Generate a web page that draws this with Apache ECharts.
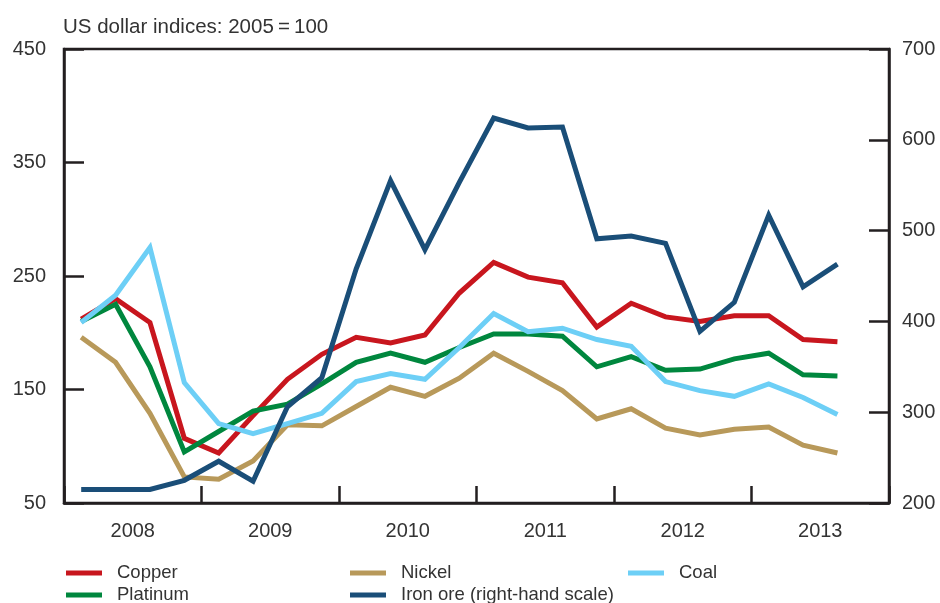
<!DOCTYPE html>
<html>
<head>
<meta charset="utf-8">
<script src="https://cdn.jsdelivr.net/npm/echarts@6/dist/echarts.min.js"></script>
<style>
html,body{margin:0;padding:0;background:#fff;}
#chart{width:940px;height:603px;}
</style>
</head>
<body>
<div id="chart"></div>
<script>
const quarters = ['2008 Q1','2008 Q2','2008 Q3','2008 Q4','2009 Q1','2009 Q2','2009 Q3','2009 Q4',
  '2010 Q1','2010 Q2','2010 Q3','2010 Q4','2011 Q1','2011 Q2','2011 Q3','2011 Q4',
  '2012 Q1','2012 Q2','2012 Q3','2012 Q4','2013 Q1','2013 Q2','2013 Q3','2013 Q4'];
const years = ['2008','2009','2010','2011','2012','2013'];
const copper   = [212, 230, 209, 107, 94, 127, 159, 181, 196, 191, 198, 235, 262, 249, 244, 205, 226, 214, 210, 215, 215, 194, 192];
const platinum = [210, 225, 170, 95, 113, 131, 137, 155, 174, 182, 174, 187, 199, 199, 197, 170, 179, 167, 168, 177, 182, 163, 162];
const nickel   = [196, 174, 129, 73, 71, 87, 119, 118, 135, 152, 144, 160, 182, 166, 149, 124, 133, 116, 110, 115, 117, 101, 94];
const coal     = [209, 233, 275, 156, 120, 111, 120, 129, 157, 164, 159, 187, 217, 201, 204, 194, 188, 157, 149, 144, 155, 143, 128];
const ironOre  = [215, 215, 215, 225, 246, 224, 306, 338, 458, 555, 479, 553, 624, 613, 614, 491, 494, 486, 389, 421, 517, 438, 463];

const FONT = '"Liberation Sans", Arial, sans-serif';
const TXT = '#333333';
const AX = '#231f20';

const chart = echarts.init(document.getElementById('chart'), null, {renderer: 'canvas'});
const lineS = (name, data, color, yi) => ({
  name, type: 'line', data, yAxisIndex: yi || 0, xAxisIndex: 0,
  symbol: 'none', smooth: false, animation: false,
  lineStyle: {width: 5, color, cap: 'butt', join: 'miter'},
  itemStyle: {color},
  emphasis: {disabled: true}
});
const legendCommon = {
  orient: 'vertical', top: 563, height: 80, padding: 0, icon: 'rect', itemWidth: 36, itemHeight: 5, itemGap: 2,
  textStyle: {fontFamily: FONT, fontSize: 18.5, color: TXT, lineHeight: 20, padding: [0, 0, 0, 10]},
  selectedMode: false
};
chart.setOption({
  animation: false,
  backgroundColor: '#fff',
  title: {
    text: 'US dollar indices: 2005\u2009=\u2009100', left: 58, top: 12,
    textStyle: {fontFamily: FONT, fontSize: 20.5, fontWeight: 'normal', color: TXT}
  },
  grid: {left: 64, right: 51, top: 49, bottom: 100, show: true, borderColor: AX, borderWidth: 2.5, backgroundColor: 'transparent'},
  legend: [
    Object.assign({left: 66, data: ['Copper', 'Platinum']}, legendCommon),
    Object.assign({left: 350, data: ['Nickel', 'Iron ore (right-hand scale)']}, legendCommon),
    Object.assign({left: 628, data: ['Coal']}, legendCommon)
  ],
  xAxis: [
    {
      type: 'category', data: quarters, boundaryGap: true, position: 'bottom',
      axisLine: {show: true, lineStyle: {color: AX, width: 2.5}},
      axisTick: {show: true, inside: true, interval: 3, length: 17, lineStyle: {color: AX, width: 2.5}},
      axisLabel: {show: false}, splitLine: {show: false}
    },
    {
      type: 'category', data: years, boundaryGap: true, position: 'bottom', offset: 0,
      axisLine: {show: false}, axisTick: {show: false}, splitLine: {show: false},
      axisLabel: {show: true, margin: 18, fontFamily: FONT, fontSize: 20, color: TXT}
    }
  ],
  yAxis: [
    {
      type: 'value', min: 50, max: 450, interval: 100, position: 'left',
      axisLine: {show: true, lineStyle: {color: AX, width: 2.5}},
      axisTick: {show: true, inside: true, length: 20, lineStyle: {color: AX, width: 2.5}},
      axisLabel: {margin: 18, fontFamily: FONT, fontSize: 20, color: TXT},
      splitLine: {show: false}
    },
    {
      type: 'value', min: 200, max: 700, interval: 100, position: 'right',
      axisLine: {show: true, lineStyle: {color: AX, width: 2.5}},
      axisTick: {show: true, inside: true, length: 20, lineStyle: {color: AX, width: 2.5}},
      axisLabel: {margin: 13, fontFamily: FONT, fontSize: 20, color: TXT},
      splitLine: {show: false}
    }
  ],
  series: [
    lineS('Copper', copper, '#c8161e'),
    lineS('Platinum', platinum, '#00873e'),
    lineS('Nickel', nickel, '#b8995a'),
    lineS('Coal', coal, '#6dcff6'),
    lineS('Iron ore (right-hand scale)', ironOre, '#1a4e78', 1)
  ]
});
</script>
</body>
</html>
